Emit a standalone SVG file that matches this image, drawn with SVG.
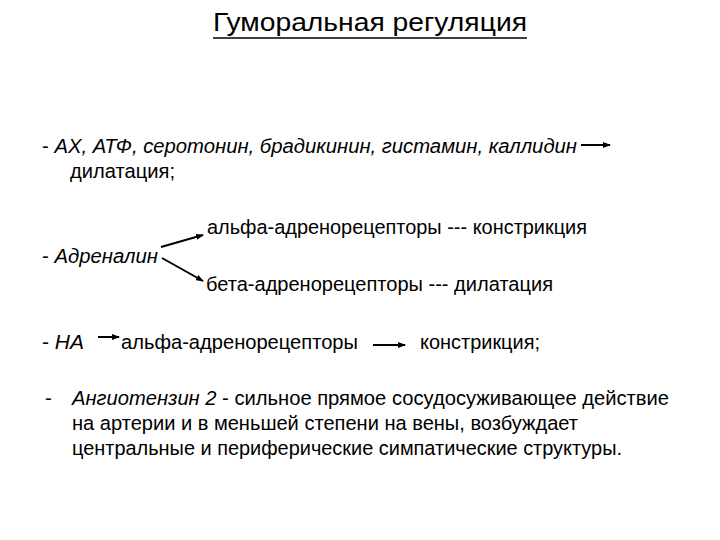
<svg xmlns="http://www.w3.org/2000/svg" width="720" height="540" viewBox="0 0 720 540">
<defs>
<style>
text{font-family:"Liberation Sans",Arial,sans-serif;font-size:20.5px;fill:#000}
.t{font-size:25px}
.i{font-style:italic}
.c{stroke:#000;stroke-width:2;fill:none}
</style>
<marker id="ah" markerWidth="8" markerHeight="6" refX="7" refY="3" orient="auto" markerUnits="userSpaceOnUse">
<path d="M0,0 L8,3 L0,6 Z" fill="#000"/>
</marker>
</defs>
<rect width="720" height="540" fill="#fff"/>
<g id="title">
<text class="t" x="213" y="31" textLength="314" lengthAdjust="spacingAndGlyphs">Гуморальная регуляция</text>
<line x1="213" y1="38" x2="527" y2="38" stroke="#000" stroke-width="1.5"/>
</g>
<g id="line1">
<text x="42" y="153" textLength="535" lengthAdjust="spacingAndGlyphs"><tspan>- </tspan><tspan class="i">АХ, АТФ, серотонин, брадикинин, гистамин, каллидин</tspan></text>
<text x="70" y="178" textLength="105" lengthAdjust="spacingAndGlyphs">дилатация;</text>
</g>
<g id="adrenalin">
<text x="42" y="263" textLength="116" lengthAdjust="spacingAndGlyphs"><tspan>- </tspan><tspan class="i">Адреналин</tspan></text>
</g>
<g id="alpha1">
<text x="207" y="234" textLength="380" lengthAdjust="spacingAndGlyphs">альфа-адренорецепторы --- констрикция</text>
</g>
<g id="beta">
<text x="206" y="291" textLength="347" lengthAdjust="spacingAndGlyphs">бета-адренорецепторы --- дилатация</text>
</g>
<g id="na">
<text x="42" y="349" textLength="42" lengthAdjust="spacingAndGlyphs"><tspan>- </tspan><tspan class="i">НА</tspan></text>
</g>
<g id="alpha2">
<text x="121" y="349" textLength="237" lengthAdjust="spacingAndGlyphs">альфа-адренорецепторы</text>
</g>
<g id="constr">
<text x="420" y="349" textLength="120" lengthAdjust="spacingAndGlyphs">констрикция;</text>
</g>
<g id="angio">
<text x="45" y="405">-</text>
<text x="72" y="405" textLength="597" lengthAdjust="spacingAndGlyphs"><tspan class="i">Ангиотензин 2</tspan><tspan>  - сильное прямое сосудосуживающее действие</tspan></text>
<text x="72" y="430" textLength="506" lengthAdjust="spacingAndGlyphs">на артерии и в меньшей степени на вены, возбуждает</text>
<text x="72" y="455" textLength="550" lengthAdjust="spacingAndGlyphs">центральные и периферические симпатические структуры.</text>
</g>
<g id="connectors">
<line class="c" x1="581" y1="145" x2="610" y2="145" marker-end="url(#ah)"/>
<line class="c" x1="161" y1="247" x2="203" y2="235" marker-end="url(#ah)"/>
<line class="c" x1="162" y1="258" x2="203" y2="281" marker-end="url(#ah)"/>
<line class="c" x1="98" y1="337" x2="119" y2="337" marker-end="url(#ah)"/>
<line class="c" x1="373" y1="345" x2="405" y2="345" marker-end="url(#ah)"/>
</g>
</svg>
